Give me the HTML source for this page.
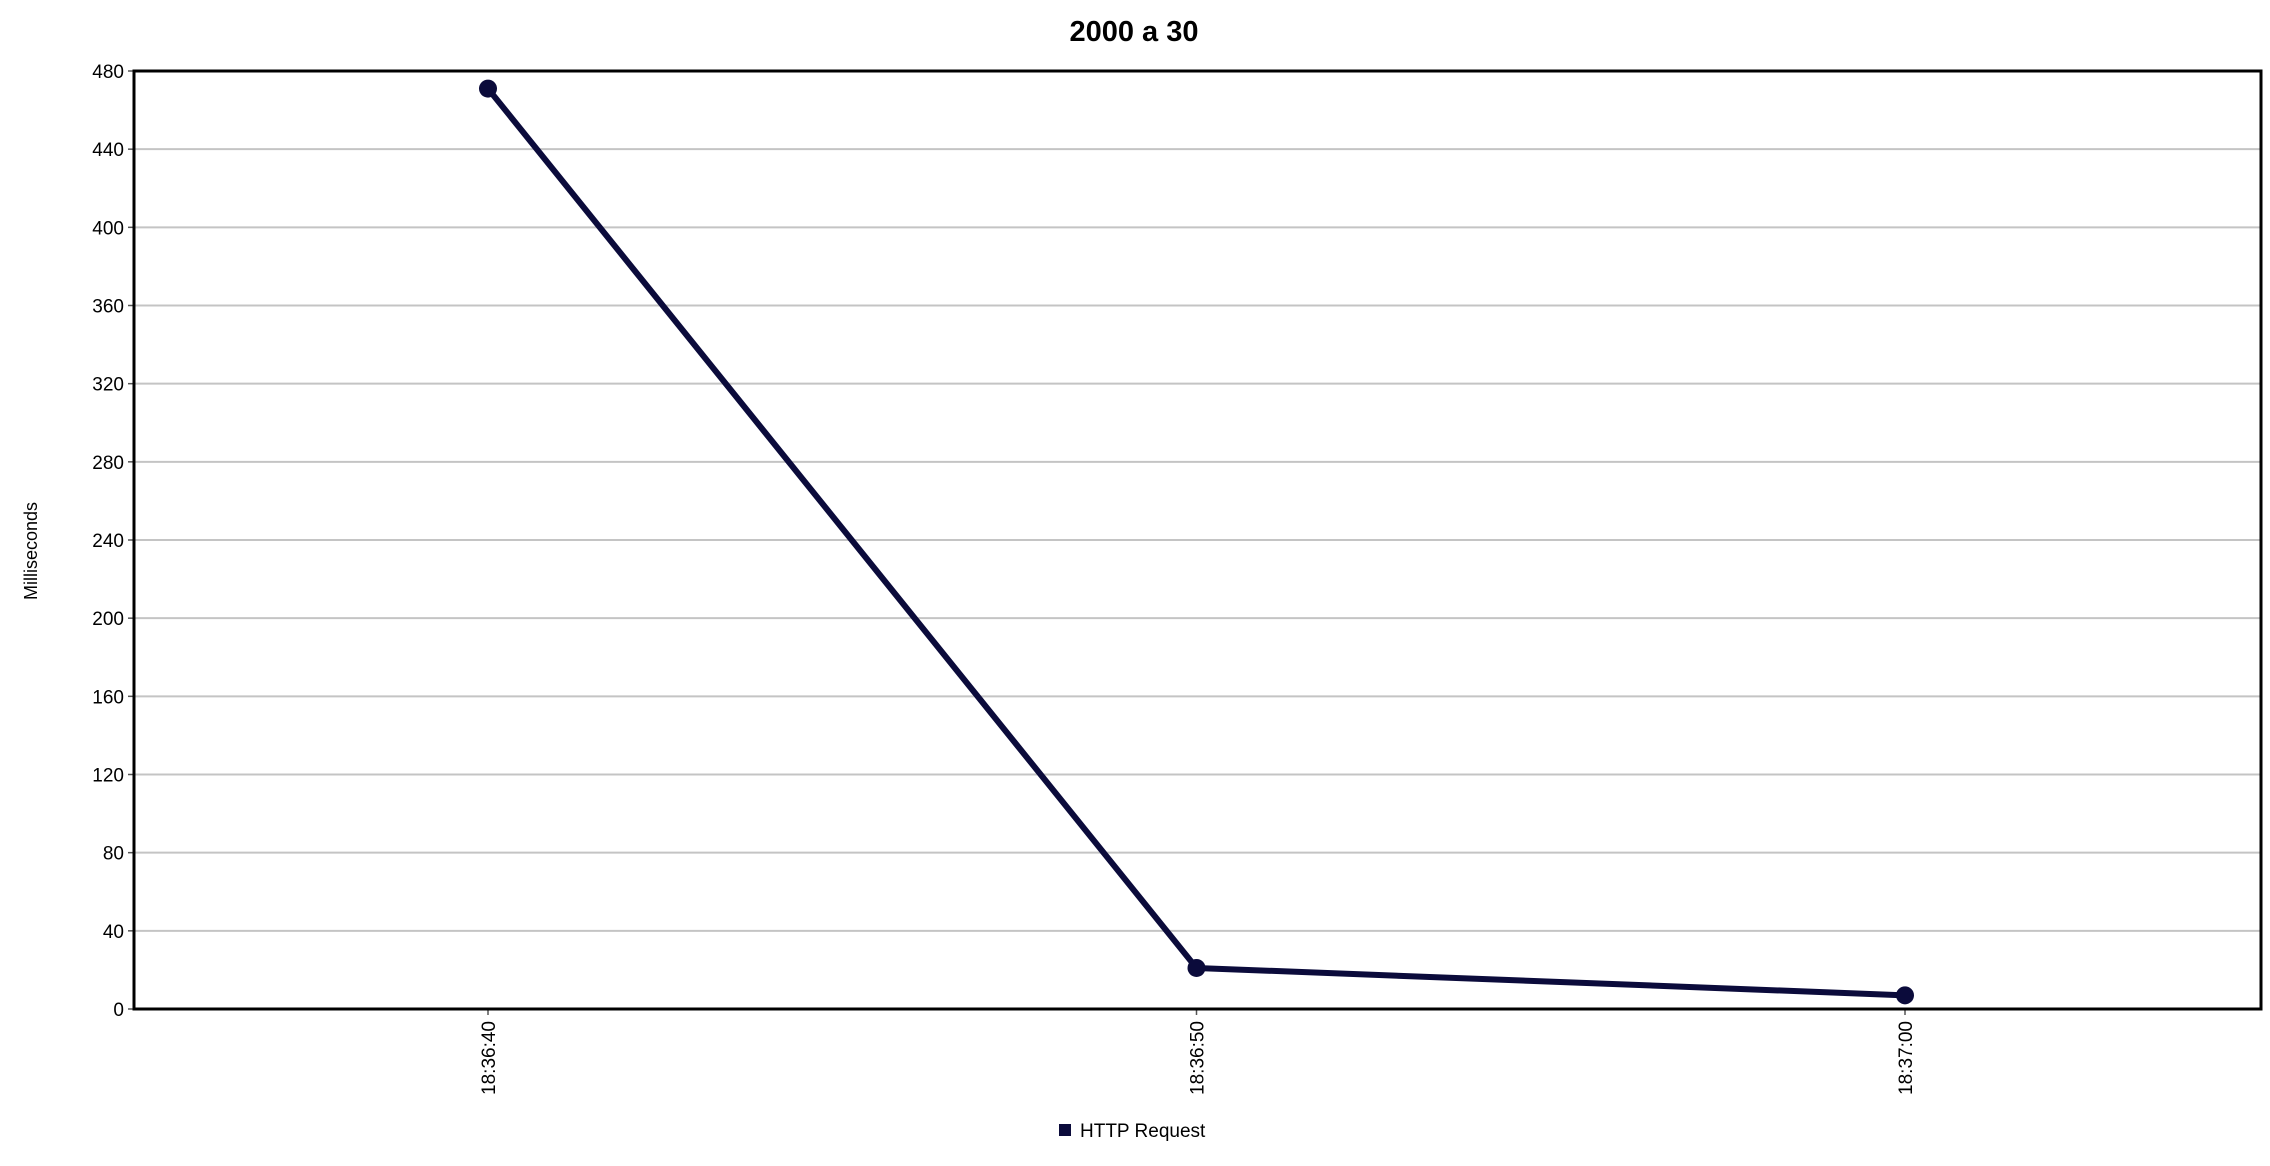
<!DOCTYPE html>
<html><head><meta charset="utf-8"><style>
html,body{margin:0;padding:0;background:#fff;}
svg{display:block;font-family:"Liberation Sans",sans-serif;}
</style></head><body>
<svg id="chart" width="2270" height="1166" viewBox="0 0 2270 1166">
<text x="1134" y="41" text-anchor="middle" font-size="29" font-weight="bold">2000 a 30</text>
<g id="grid"></g>
<g id="yticks"></g>
<g id="xticks"></g>
<rect x="134" y="71" width="2127" height="938" fill="none" stroke="#000" stroke-width="3"/>
<g id="series"></g>
<text transform="translate(37,551) rotate(-90)" text-anchor="middle" font-size="18">Milliseconds</text>
<g>
<rect x="1059" y="1124" width="12" height="12" fill="#0b0b3b"/>
<text x="1080" y="1137" font-size="19">HTTP Request</text>
</g>
</svg>
<script>
const categories = ["18:36:40", "18:36:50", "18:37:00"];
const values = [471, 21, 7];
const yTicks = [0, 40, 80, 120, 160, 200, 240, 280, 320, 360, 400, 440, 480];
const NS = "http://www.w3.org/2000/svg";
const L = 134, R = 2261, T = 71, B = 1009;
const yMax = 480;
function y(v){ return B - v / yMax * (B - T); }
const xStart = 488, xStep = 708.5;
function x(i){ return xStart + i * xStep; }
function mk(tag, attrs, parent){ const e = document.createElementNS(NS, tag); for (const k in attrs) e.setAttribute(k, attrs[k]); parent.appendChild(e); return e; }
const grid = document.getElementById('grid'), yt = document.getElementById('yticks'), xt = document.getElementById('xticks'), ser = document.getElementById('series');
yTicks.forEach(v => {
  if (v > 0 && v < yMax) {
    const g = mk('line', {x1: L, x2: R, y1: y(v), y2: y(v), stroke: '#c4c4c4', 'stroke-width': 2}, grid);
    
    
  }
  const tk = mk('line', {x1: L - 6, x2: L, y1: y(v), y2: y(v), stroke: '#555', 'stroke-width': 1.5}, yt);
  
  
  const t = mk('text', {x: L - 10, y: y(v) + 7, 'text-anchor': 'end', 'font-size': 19}, yt);
  t.textContent = v;
  
  
});
categories.forEach((c, i) => {
  const tk = mk('line', {x1: x(i), x2: x(i), y1: B, y2: B + 6, stroke: '#555', 'stroke-width': 1.5}, xt);
  
  
  const t = mk('text', {transform: `translate(${x(i) + 7},${B + 12}) rotate(-90)`, 'text-anchor': 'end', 'font-size': 19}, xt);
  t.textContent = c;
  
  
});
const pts = values.map((v, i) => x(i) + ',' + y(v)).join(' ');
const pl = mk('polyline', {points: pts, fill: 'none', stroke: '#0b0b3b', 'stroke-width': 6, 'stroke-linejoin': 'round'}, ser);


values.forEach((v, i) => {
  const c = mk('circle', {cx: x(i), cy: y(v), r: 9, fill: '#0b0b3b'}, ser);
  
  
});
</script>
</body></html>
